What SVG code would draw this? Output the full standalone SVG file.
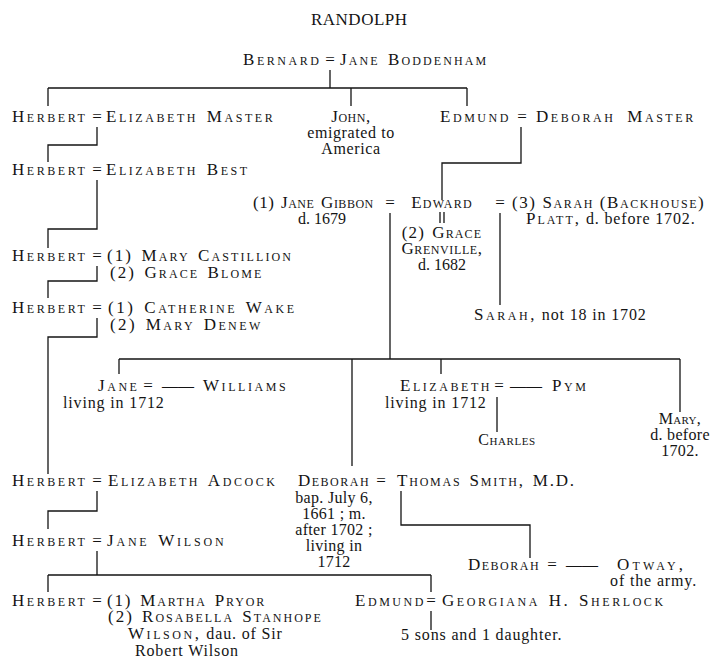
<svg xmlns="http://www.w3.org/2000/svg" width="717" height="670" viewBox="0 0 717 670">
<style>
text{font-family:"Liberation Serif","Times New Roman",serif;font-size:16px;fill:#141414;letter-spacing:0.85px}
.sc{font-variant:small-caps;font-size:17px;letter-spacing:2.55px;word-spacing:2px}
.q{font-size:17px;text-anchor:middle;letter-spacing:0}
.m{text-anchor:middle}
.e{text-anchor:end}
#links path{fill:none;stroke:#141414;stroke-width:1.3}
</style>
<rect width="717" height="670" fill="#fff"/>
<g id="title"><text x="311" y="25" style="font-size:17px;letter-spacing:0" textLength="96" lengthAdjust="spacing">RANDOLPH</text></g>
<g id="links">
<path d="M330 70V88M48 88H467M48 88V106M351 88V106M467 88V106"/>
<path d="M97 127V145H48V162"/>
<path d="M97 180V229H48V248"/>
<path d="M97 266V281H48V298"/>
<path d="M97 318V337H48V474"/>
<path d="M521 127V163H442V200"/>
<path d="M390 213V359M500 213V305M440 212V223M444 212V223"/>
<path d="M119 359H680M119 359V374M352 359V466M441 359V374M680 359V412"/>
<path d="M497 397V432"/>
<path d="M401 491V525H530V558"/>
<path d="M97 491V511H48V529"/>
<path d="M97 551V575M48 575H431M48 575V592M431 575V592"/>
<path d="M431 611V630"/>
</g>
<g id="bernard"><text x="243" y="65" class="sc">Bernard</text><text x="330" y="65" class="q">=</text><text x="340" y="65" class="sc" style="letter-spacing:2.1px">Jane Boddenham</text></g>
<g id="herbert1"><text x="12" y="122" class="sc">Herbert</text><text x="97" y="122" class="q">=</text><text x="106" y="122" class="sc">Elizabeth Master</text></g>
<g id="john"><text x="351" y="122" class="sc m" style="letter-spacing:0.5px">John,</text><text x="351" y="138" class="m" style="letter-spacing:0.6px">emigrated to</text><text x="351" y="154" class="m" style="letter-spacing:0.6px">America</text></g>
<g id="edmund1"><text x="440" y="122" class="sc">Edmund</text><text x="522" y="122" class="q">=</text><text x="536" y="122" class="sc" style="word-spacing:5px">Deborah Master</text></g>
<g id="herbert2"><text x="12" y="175" class="sc">Herbert</text><text x="97" y="175" class="q">=</text><text x="106" y="175" class="sc">Elizabeth Best</text></g>
<g id="gibbon"><text x="253" y="208" class="sc" style="letter-spacing:0.5px">(1) Jane Gibbon</text><text x="390" y="208" class="q">=</text><text x="322" y="224" class="m" style="letter-spacing:0">d. 1679</text></g>
<g id="edward"><text x="442" y="208" class="sc m" style="letter-spacing:1.2px">Edward</text></g>
<g id="grace"><text x="442" y="238" class="sc m" style="letter-spacing:1.1px">(2) Grace</text><text x="442" y="254" class="sc m" style="letter-spacing:0.6px">Grenville,</text><text x="442" y="270" class="m" style="letter-spacing:0">d. 1682</text></g>
<g id="sarah3"><text x="500" y="208" class="q">=</text><text x="512" y="208" class="sc" style="letter-spacing:1.6px;word-spacing:0">(3) Sarah (Backhouse)</text><text x="526" y="224"><tspan class="sc" style="letter-spacing:2px">Platt,</tspan> d. before 1702.</text></g>
<g id="sarah"><text x="474" y="320"><tspan class="sc">Sarah,</tspan> not 18 in 1702</text></g>
<g id="herbert3"><text x="12" y="261" class="sc">Herbert</text><text x="97" y="261" class="q">=</text><text x="107" y="261" class="sc" style="letter-spacing:2.1px">(1) Mary Castillion</text><text x="110" y="278" class="sc" style="letter-spacing:2.1px">(2) Grace Blome</text></g>
<g id="herbert4"><text x="12" y="313" class="sc">Herbert</text><text x="97" y="313" class="q">=</text><text x="108" y="313" class="sc">(1) Catherine Wake</text><text x="110" y="330" class="sc" style="letter-spacing:2.4px">(2) Mary Denew</text></g>
<g id="jane"><text x="98" y="391" class="sc">Jane</text><text x="148" y="391" class="q">=</text><text x="162" y="391" style="letter-spacing:0">——</text><text x="203" y="391" class="sc">Williams</text><text x="63" y="408">living in 1712</text></g>
<g id="elizabeth"><text x="400" y="391" class="sc">Elizabeth</text><text x="499" y="391" class="q">=</text><text x="510" y="391" style="letter-spacing:0">——</text><text x="552" y="391" class="sc">Pym</text><text x="385" y="408">living in 1712</text></g>
<g id="charles"><text x="507" y="445" class="sc m" style="font-size:16px;letter-spacing:0.6px">Charles</text></g>
<g id="mary"><text x="680" y="424" class="sc m" style="font-size:16px;letter-spacing:0.3px">Mary,</text><text x="680" y="440" class="m" style="letter-spacing:0.3px">d. before</text><text x="680" y="456" class="m" style="letter-spacing:0.3px">1702.</text></g>
<g id="herbert5"><text x="12" y="486" class="sc">Herbert</text><text x="97" y="486" class="q">=</text><text x="108" y="486" class="sc">Elizabeth Adcock</text></g>
<g id="deborah1"><text x="298" y="486" class="sc" style="letter-spacing:1.5px">Deborah</text><text x="381" y="486" class="q">=</text><text x="397" y="486" class="sc" style="letter-spacing:1.8px">Thomas Smith, M.D.</text>
<text x="334" y="503" class="m" style="letter-spacing:0.3px">bap. July 6,</text><text x="334" y="519" class="m" style="letter-spacing:0.3px">1661 ; m.</text><text x="334" y="535" class="m" style="letter-spacing:0.3px">after 1702 ;</text><text x="334" y="551" class="m" style="letter-spacing:0.3px">living in</text><text x="334" y="567" class="m" style="letter-spacing:0.3px">1712</text></g>
<g id="deborah2"><text x="468" y="570" class="sc" style="letter-spacing:1.5px">Deborah</text><text x="552" y="570" class="q">=</text><text x="566" y="570" style="letter-spacing:0">——</text><text x="617" y="570" class="sc" style="letter-spacing:3.2px">Otway,</text><text x="697" y="586" class="e">of the army.</text></g>
<g id="herbert6"><text x="12" y="546" class="sc">Herbert</text><text x="97" y="546" class="q">=</text><text x="107" y="546" class="sc" style="letter-spacing:2.8px">Jane Wilson</text></g>
<g id="herbert7"><text x="12" y="606" class="sc">Herbert</text><text x="97" y="606" class="q">=</text><text x="107" y="606" class="sc" style="letter-spacing:1.8px">(1) Martha Pryor</text><text x="108" y="622" class="sc" style="letter-spacing:2px">(2) Rosabella Stanhope</text><text x="128" y="639"><tspan class="sc">Wilson,</tspan> dau. of Sir</text><text x="135" y="656">Robert Wilson</text></g>
<g id="edmund2"><text x="355" y="606" class="sc">Edmund</text><text x="431" y="606" class="q">=</text><text x="442" y="606" class="sc">Georgiana H. Sherlock</text><text x="401" y="640">5 sons and 1 daughter.</text></g>
</svg>
